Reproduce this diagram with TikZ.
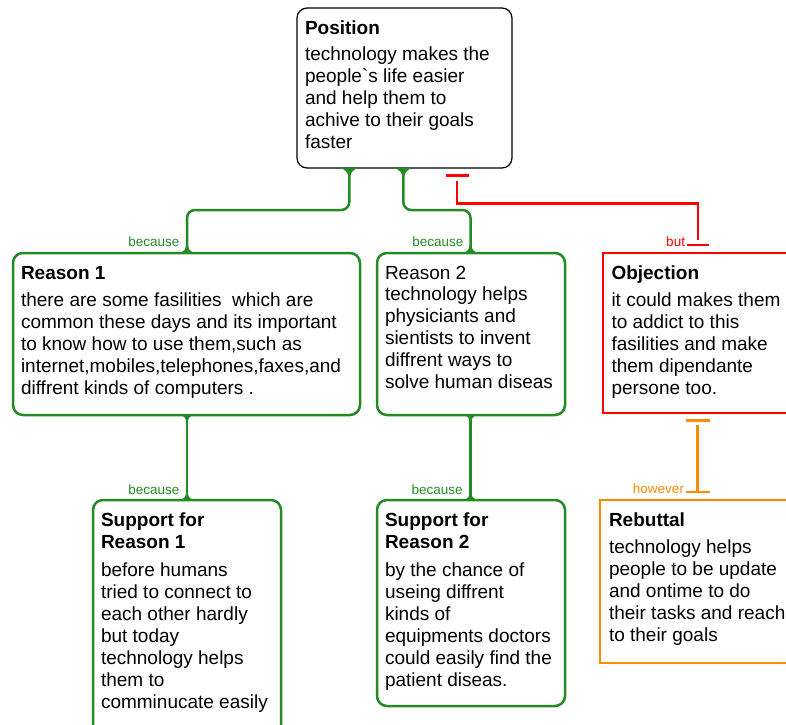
\documentclass[tikz,border=0pt]{standalone}
\usepackage{fontspec}
\setmainfont{Liberation Sans}[Ligatures=TeXOff]
\definecolor{argreen}{RGB}{36,138,36}
\definecolor{arred}{RGB}{255,0,0}
\definecolor{arorange}{RGB}{255,140,0}
\newcommand{\boxtxt}[3]{\parbox[c][#2pt][t]{#1pt}{\fontsize{19}{22}\selectfont\raggedright\rule{0pt}{26.3pt}#3}}
\newcommand{\fillet}[3]{\fill[argreen] ([xshift=-#3pt]#1) .. controls ([xshift=-0.35*#3pt]#1) and ([yshift=0.35*#2pt]#1) .. ([yshift=#2pt]#1) .. controls ([yshift=0.35*#2pt]#1) and ([xshift=0.35*#3pt]#1) .. ([xshift=#3pt]#1) -- cycle;}
\begin{document}
\begin{tikzpicture}[x=1pt,y=-1pt,
  every node/.style={inner sep=0pt, outer sep=0pt},
  kbox/.style={draw=black, line width=1.2pt, rounded corners=10pt, anchor=north west, inner xsep=8pt},
  gbox/.style={draw=argreen, line width=2.5pt, rounded corners=10pt, anchor=north west, inner xsep=8pt},
  rbox/.style={draw=arred, line width=2.6pt, anchor=north west, inner xsep=8.5pt},
  obox/.style={draw=arorange, line width=2.8pt, anchor=north west, inner xsep=9pt},
  gline/.style={draw=argreen, line width=2.5pt, rounded corners=8pt},
  rline/.style={draw=arred, line width=2.6pt},
  oline/.style={draw=arorange, line width=2.8pt},
  lab/.style={anchor=base east, font=\fontsize{13.5}{15}\selectfont},
]
\clip (0,0) rectangle (786,724);

\node[kbox] (pos) at (297,8) {\boxtxt{199}{160}{\textbf{Position}\\[4.4pt]technology makes the\\people`s life easier\\and help them to\\achive to their goals\\faster}};

\node[gbox] (r1) at (13,253) {\boxtxt{331}{162}{\textbf{Reason 1}\\[5.4pt]there are some fasilities\ \ which are\\common these days and its important\\to know how to use them,such as\\internet,mobiles,telephones,faxes,and\\diffrent kinds of computers .}};

\node[gbox] (r2) at (377,253) {\boxtxt{172}{162}{\vspace*{-1pt}Reason 2\\technology helps\\physiciants and\\sientists to invent\\diffrent ways to\\solve human diseas}};

\node[rbox] (obj) at (603,253) {\boxtxt{183}{160}{\textbf{Objection}\\[5.4pt]it could makes them\\to addict to this\\fasilities and make\\them dipendante\\persone too.}};

\node[gbox] (s1) at (93,500) {\boxtxt{172}{240}{\textbf{Support for}\\\textbf{Reason 1}\\[5.7pt]before humans\\tried to connect to\\each other hardly\\but today\\technology helps\\them to\\comminucate easily}};

\node[gbox] (s2) at (377,500) {\boxtxt{172}{206}{\textbf{Support for}\\\textbf{Reason 2}\\[5.7pt]by the chance of\\useing diffrent\\kinds of\\equipments doctors\\could easily find the\\patient diseas.}};

\node[obox] (reb) at (600,500) {\boxtxt{186}{163}{\textbf{Rebuttal}\\[5.4pt]technology helps\\people to be update\\and ontime to do\\their tasks and reach\\to their goals}};

% joints
\coordinate (j1) at ([xshift=52.3pt]pos.south west);
\coordinate (j2) at ([xshift=174pt]r1.north west);
\coordinate (j3) at ([xshift=106.3pt]pos.south west);
\coordinate (j4) at ([xshift=93.5pt]r2.north west);
\coordinate (j5) at ([xshift=174pt]r1.south west);
\coordinate (j6) at ([xshift=94pt]s1.north west);
\coordinate (j7) at ([xshift=93.5pt]r2.south west);
\coordinate (j8) at ([xshift=93.5pt]s2.north west);

% green connectors
\draw[gline] (j1) -- ++(0,42) -| (j2);
\draw[gline] (j3) -- ++(0,42) -| (j4);
\draw[gline] (j5) -- (j6);
\draw[gline] (j7) -- (j8);
\fillet{j1}{-15}{11}
\fillet{j3}{-15}{11}
\fillet{j2}{13}{9}
\fillet{j4}{13}{9}
\fillet{j5}{-11}{8}
\fillet{j7}{-11}{8}
\fillet{j6}{12}{8}
\fillet{j8}{12}{8}

% green labels
\node[lab, text=argreen] (l1) at ([xshift=-7.7pt,yshift=7pt]j2) {because};
\node[lab, text=argreen] (l2) at ([xshift=-7.2pt,yshift=7pt]j4) {because};
\node[lab, text=argreen] (l3) at ([xshift=-7.7pt,yshift=6pt]j6) {because};
\node[lab, text=argreen] (l4) at ([xshift=-7.8pt,yshift=6pt]j8) {because};

% red connector (objection)
\draw[rline] ([xshift=95pt,yshift=13pt]obj.north west) -- ++(0,-36.5) -| ([xshift=160pt,yshift=-13pt]pos.south west);
\draw[rline] ([xshift=84pt,yshift=8pt]obj.north west) -- ([xshift=106pt,yshift=8pt]obj.north west);
\draw[rline] ([xshift=149pt,yshift=-7.5pt]pos.south west) -- ([xshift=172pt,yshift=-7.5pt]pos.south west);
\node[lab, text=arred] (lbut) at ([xshift=82pt,yshift=6.3pt]obj.north west) {but};

% orange connector (rebuttal)
\draw[oline] ([xshift=94.3pt,yshift=-12pt]obj.south west) -- ([xshift=97.3pt,yshift=9.3pt]reb.north west);
\draw[oline] ([xshift=83pt,yshift=-7.7pt]obj.south west) -- ([xshift=107pt,yshift=-7.7pt]obj.south west);
\draw[oline] ([xshift=86pt,yshift=8pt]reb.north west) -- ([xshift=110pt,yshift=8pt]reb.north west);
\node[lab, text=arorange] (lhow) at ([xshift=84pt,yshift=6.7pt]reb.north west) {however};
\end{tikzpicture}
\end{document}
